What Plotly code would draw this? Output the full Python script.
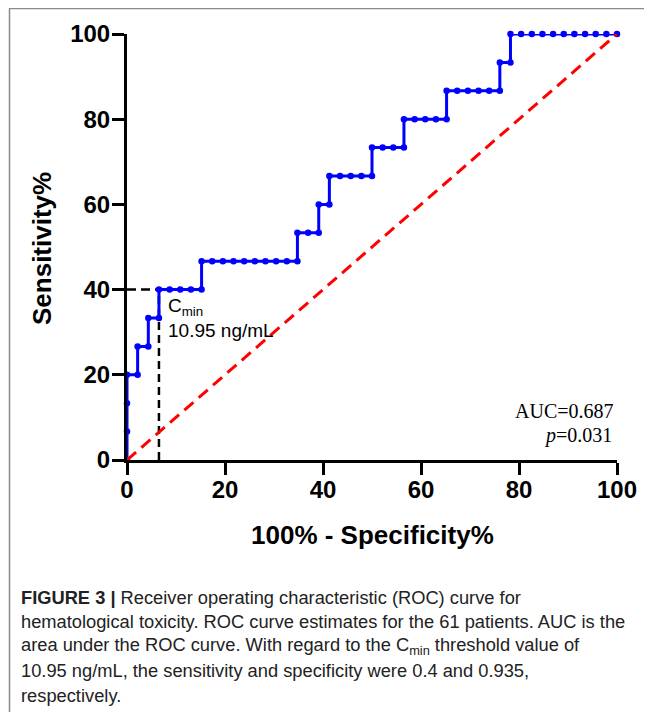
import plotly.graph_objects as go

# ROC curve points (100% - Specificity%, Sensitivity%)
fpr = [0, 0, 0, 0, 2.17, 2.17, 4.35, 4.35, 6.52, 6.52, 8.70, 10.87, 13.04, 15.22,
       15.22, 17.39, 19.57, 21.74, 23.91, 26.09, 28.26, 30.43, 32.61, 34.78,
       34.78, 36.96, 39.13, 39.13, 41.30, 41.30, 43.48, 45.65, 47.83, 50.00,
       50.00, 52.17, 54.35, 56.52, 56.52, 58.70, 60.87, 63.04, 65.22,
       65.22, 67.39, 69.57, 71.74, 73.91, 76.09, 76.09, 78.26, 78.26,
       80.43, 82.61, 84.78, 86.96, 89.13, 91.30, 93.48, 95.65, 97.83, 100]
tpr = [0, 6.67, 13.33, 20, 20, 26.67, 26.67, 33.33, 33.33, 40, 40, 40, 40, 40,
       46.67, 46.67, 46.67, 46.67, 46.67, 46.67, 46.67, 46.67, 46.67, 46.67,
       53.33, 53.33, 53.33, 60, 60, 66.67, 66.67, 66.67, 66.67, 66.67,
       73.33, 73.33, 73.33, 73.33, 80, 80, 80, 80, 80,
       86.67, 86.67, 86.67, 86.67, 86.67, 86.67, 93.33, 93.33, 100,
       100, 100, 100, 100, 100, 100, 100, 100, 100, 100]
ref_x = [0, 100]
ref_y = [0, 100]
thr_x = 6.52
thr_y = 40
tick_vals = [0, 20, 40, 60, 80, 100]
tick_text = ["0", "20", "40", "60", "80", "100"]

OFF = 8  # page body margin
W, H = 652 - OFF, 712 - OFF
L, R, T, B = 127 - OFF, 617 - OFF, 34 - OFF, 460 - OFF


def px(x):
    return (x - OFF - L) / (R - L)


def py(y):
    return (B - (y - OFF)) / (B - T)


fig = go.Figure()
fig.add_trace(go.Scatter(x=[thr_x, thr_x], y=[0, thr_y], mode="lines",
                         line=dict(color="black", width=2.5, dash="8px,5px"),
                         hoverinfo="skip", cliponaxis=False))
fig.add_trace(go.Scatter(x=[0, thr_x], y=[thr_y, thr_y], mode="lines",
                         line=dict(color="black", width=2.5, dash="9px,5px"),
                         hoverinfo="skip", cliponaxis=False))
fig.add_trace(go.Scatter(x=fpr, y=tpr, mode="lines+markers",
                         line=dict(color="#0000FF", width=3),
                         marker=dict(color="#0000FF", size=6.5),
                         cliponaxis=False))
fig.add_trace(go.Scatter(x=ref_x, y=ref_y, mode="lines",
                         line=dict(color="#FF0000", width=3, dash="12px,7px"),
                         cliponaxis=False))

axis_common = dict(range=[0, 100], showgrid=False, zeroline=False, showline=True,
                   linecolor="black", linewidth=3, ticks="outside", ticklen=12,
                   tickwidth=3, tickcolor="black", tickvals=tick_vals, ticktext=tick_text,
                   tickfont=dict(family="Liberation Sans", size=24, color="black",
                                 weight="bold"))

fig.update_layout(
    width=W, height=H,
    margin=dict(l=L, r=W - R, t=T, b=H - B),
    paper_bgcolor="white", plot_bgcolor="white",
    showlegend=False,
    xaxis=dict(**axis_common, ticklabelstandoff=-6),
    yaxis=dict(**axis_common, ticklabelstandoff=-3),
)

ann = []
ann.append(dict(x=px(372), y=py(535), text="<b>100% - Specificity%</b>",
                font=dict(family="Liberation Sans", size=26, color="black")))
ann.append(dict(x=px(42), y=py(249), text="<b>Sensitivity%</b>", textangle=-90,
                font=dict(family="Liberation Sans", size=26, color="black")))
ann.append(dict(x=px(166), y=py(307), text="C<sub>min</sub>", xanchor="left",
                font=dict(family="Liberation Sans", size=19, color="black")))
ann.append(dict(x=px(166), y=py(330), text="10.95 ng/mL", xanchor="left",
                font=dict(family="Liberation Sans", size=19, color="black")))
ann.append(dict(x=px(616), y=py(411), text="AUC=0.687", xanchor="right",
                font=dict(family="Liberation Serif", size=20, color="black")))
ann.append(dict(x=px(614), y=py(435), text="<i>p</i>=0.031", xanchor="right",
                font=dict(family="Liberation Serif", size=20, color="black")))

caption = [
    "<b>FIGURE 3 |</b> Receiver operating characteristic (ROC) curve for",
    "hematological toxicity. ROC curve estimates for the 61 patients. AUC is the",
    "area under the ROC curve. With regard to the C<sub>min</sub> threshold value of",
    "10.95 ng/mL, the sensitivity and specificity were 0.4 and 0.935,",
    "respectively.",
]
for i, line in enumerate(caption):
    ann.append(dict(x=px(19), y=py(597 + 24.5 * i), text=line, xanchor="left",
                    font=dict(family="Liberation Sans", size=18.3, color="#222222")))

for a in ann:
    a.update(xref="paper", yref="paper", showarrow=False, yanchor="middle")
    a.setdefault("xanchor", "center")
fig.update_layout(annotations=ann)

fig.add_shape(type="line", xref="paper", yref="paper", x0=px(9), x1=px(670),
              y0=py(8.5), y1=py(8.5), line=dict(color="#8a8a8a", width=1.5))
fig.add_shape(type="line", xref="paper", yref="paper", x0=px(9.5), x1=px(9.5),
              y0=py(8.5), y1=py(730), line=dict(color="#8a8a8a", width=1.5))

fig.write_html("out.html")
